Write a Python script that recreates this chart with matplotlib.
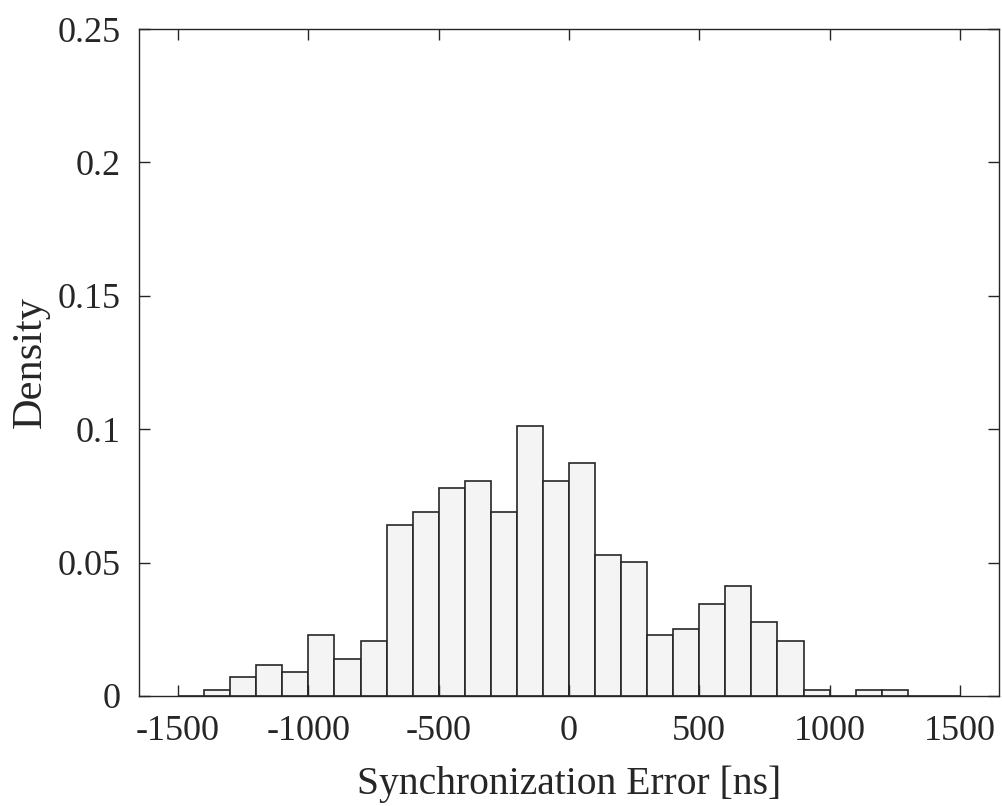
import matplotlib
matplotlib.use("Agg")
import matplotlib.pyplot as plt
import numpy as np

# Histogram bins: 100 ns wide, -1500..1500
bin_edges = list(range(-1500, 1501, 100))
density = [
    0.0000, 0.0023, 0.0070, 0.0115, 0.0091, 0.0228, 0.0139, 0.0207,
    0.0641, 0.0688, 0.0779, 0.0804, 0.0688, 0.1011, 0.0804, 0.0872,
    0.0527, 0.0504, 0.0228, 0.0251, 0.0344, 0.0412, 0.0276, 0.0207,
    0.0023, 0.0000, 0.0023, 0.0023, 0.0000, 0.0000,
]
x_ticks = [-1500, -1000, -500, 0, 500, 1000, 1500]
y_ticks = [0, 0.05, 0.1, 0.15, 0.2, 0.25]
y_ticklabels = ["0", "0.05", "0.1", "0.15", "0.2", "0.25"]

plt.rcParams["font.family"] = ["Liberation Serif", "DejaVu Serif"]

fig = plt.figure(figsize=(10.03, 8.06), dpi=100)
ax = fig.add_axes([139 / 1003, 1 - 696 / 806, (999 - 139) / 1003, (696 - 29) / 806])

left = np.array(bin_edges[:-1])
width = np.diff(bin_edges)
ax.bar(left, density, width=width, align="edge",
       facecolor="#f4f4f4", edgecolor="#262626", linewidth=1.2)

ax.set_xlim(-1650, 1650)
ax.set_ylim(0, 0.25)
ax.set_xticks(x_ticks)
ax.set_xticklabels([str(t) for t in x_ticks])
ax.set_yticks(y_ticks)
ax.set_yticklabels(y_ticklabels)

for s in ax.spines.values():
    s.set_color("#262626")
    s.set_linewidth(1.0)
ax.tick_params(direction="in", length=8, width=1.0, top=True, right=True,
               labelsize=26, colors="#262626")
ax.tick_params(axis="x", pad=14)
ax.tick_params(axis="y", pad=13)

ax.set_xlabel("Synchronization Error [ns]", fontsize=28.5, color="#262626")
ax.xaxis.set_label_coords(0.5, (696 - 794) / 667)
ax.xaxis.label.set_va("baseline")

ax.set_ylabel("Density", fontsize=30.5, color="#262626")
ax.yaxis.set_label_coords((41 - 139) / 860, 0.5)
ax.yaxis.label.set_va("baseline")

fig.savefig("out.png", dpi=100)
